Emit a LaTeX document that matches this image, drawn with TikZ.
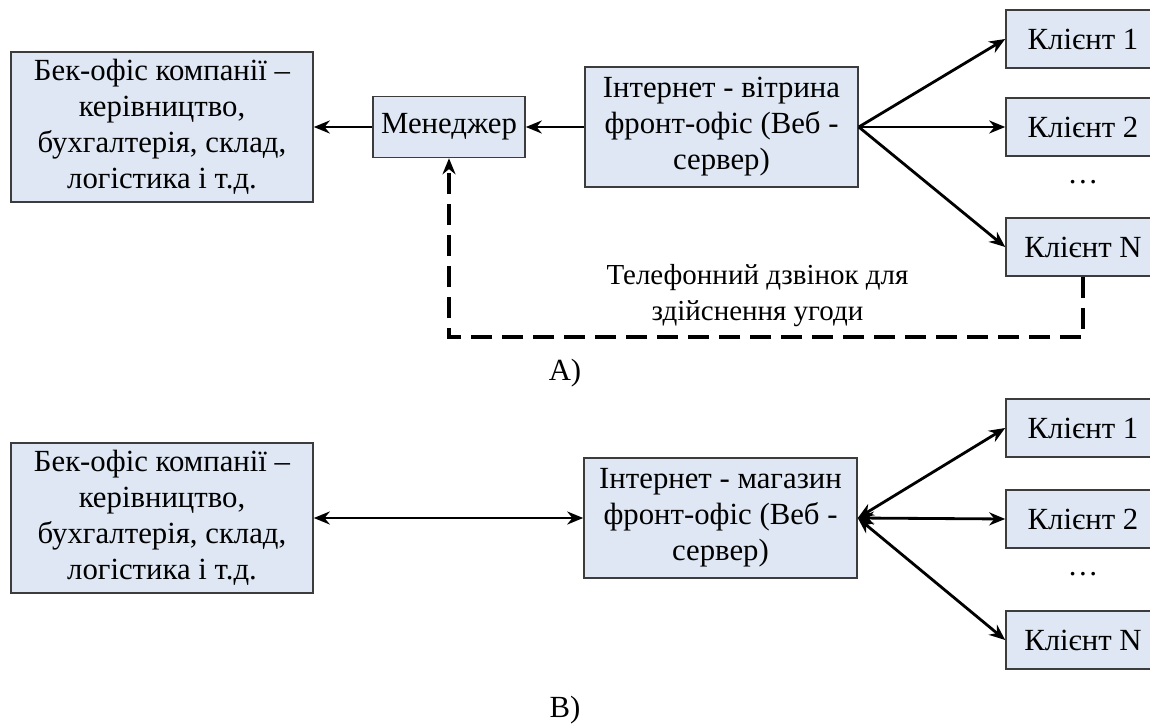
\documentclass[tikz,border=0pt]{standalone}
\usepackage{fontspec}
\setmainfont{Liberation Serif}
\newfontfamily\tnrfont{Liberation Serif}
\usetikzlibrary{arrows.meta}
\definecolor{boxblue}{RGB}{222,231,243}
\definecolor{boxline}{RGB}{60,60,60}
\tikzset{
  box/.style={draw=boxline, fill=boxblue, line width=0.9pt, align=center,
    inner sep=2pt, font=\tnrfont\fontsize{17.5}{20.5}\selectfont},
  boxwide/.style={box, minimum width=6.04cm, minimum height=3cm},
  boxweb/.style={box, minimum width=5.46cm, minimum height=2.4cm},
  boxcl/.style={box, minimum width=3.08cm, minimum height=1.16cm},
  lbl/.style={align=center, font=\tnrfont\fontsize{17.5}{20.5}\selectfont},
  conn/.style={line width=1.6pt, -{Stealth[length=0.32cm, width=0.26cm]}},
  conn2/.style={line width=1.6pt, {Stealth[length=0.32cm, width=0.26cm]}-{Stealth[length=0.32cm, width=0.26cm]}},
  callline/.style={conn, line width=1.8pt, dash pattern=on 0.42cm off 0.2cm}
}
\begin{document}
\begin{tikzpicture}
    \useasboundingbox (0,0) rectangle (23,14.54);

    % A) shop window + manager
    \node[boxwide] (boA) at (3.24,12) {Бек-офіс компанії –\\керівництво,\\бухгалтерія, склад,\\логістика і т.д.};
    \node[box, minimum width=3.04cm, minimum height=1.22cm] (men) at (8.98,12) {Менеджер};
    \node[boxweb] (webA) at (14.43,12) {Інтернет - вітрина\\фронт-офіс (Веб -\\сервер)};
    \node[boxcl] (k1A) at (21.66,13.76) {Клієнт 1};
    \node[boxcl] (k2A) at (21.66,12) {Клієнт 2};
    \node[lbl] (dotsA) at (21.66,10.9) {\dots};
    \node[boxcl] (kNA) at (21.66,9.6) {Клієнт N};

    \draw[conn] (men) -- (boA);
    \draw[conn] (webA) -- (men);
    \foreach \Kl in {k1A, k2A, kNA}{
      \draw[conn] (webA.east) -- (\Kl.west);
    }

    % phone call
    \coordinate (callA) at (21.66,7.8);
    \draw[callline] (kNA.south) -- (callA) -| (men.south);
    \node[lbl, font=\tnrfont\fontsize{16.5}{20.5}\selectfont] (callTxt) at (15.15,8.62) {Телефонний дзвінок для\\здійснення угоди};
    \node[lbl] (capA) at (11.3,7.08) {A)};

    % B) web shop
    \node[boxwide] (boB) at (3.24,4.18) {Бек-офіс компанії –\\керівництво,\\бухгалтерія, склад,\\логістика і т.д.};
    \node[boxweb] (webB) at (14.41,4.18) {Інтернет - магазин\\фронт-офіс (Веб -\\сервер)};
    \node[boxcl] (k1B) at (21.66,5.98) {Клієнт 1};
    \node[boxcl] (k2B) at (21.66,4.16) {Клієнт 2};
    \node[lbl] (dotsB) at (21.66,3.05) {\dots};
    \node[boxcl] (kNB) at (21.66,1.74) {Клієнт N};

    \draw[conn2] (boB) -- (webB);
    \foreach \Kl in {k1B, k2B, kNB}{
      \draw[conn2] (webB.east) -- (\Kl.west);
    }
    \node[lbl] (capB) at (11.3,0.34) {B)};

\end{tikzpicture}
\end{document}
